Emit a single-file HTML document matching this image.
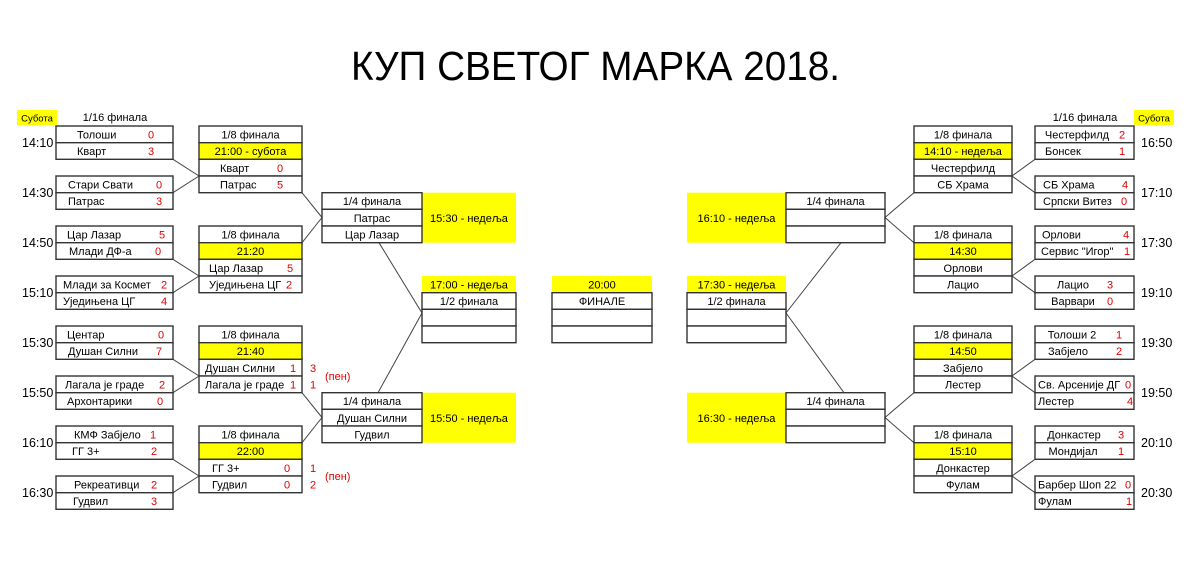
<!DOCTYPE html>
<html><head><meta charset="utf-8">
<style>
html,body{margin:0;padding:0;background:#fff;}
svg{display:block;}
text{font-family:"Liberation Sans",sans-serif;font-size:11px;fill:#000;}
.r{fill:#e00000;}
.t{font-size:12.5px;}
.c{text-anchor:middle;}
rect.b{fill:#fff;stroke:#333;stroke-width:1.4;}
rect.y{fill:#ffff00;stroke:#333;stroke-width:1.4;}
rect.yn{fill:#ffff00;stroke:none;}
line{stroke:#444;stroke-width:1;}
</style></head><body>
<svg width="1203" height="577" viewBox="0 0 1203 577" xmlns="http://www.w3.org/2000/svg">
<text x="351" y="80" style="font-size:41px" textLength="489" lengthAdjust="spacingAndGlyphs">КУП СВЕТОГ МАРКА 2018.</text>

<!-- headers -->
<rect class="yn" x="17" y="110" width="40" height="15"/>
<text x="37" y="121.5" class="c" style="font-size:9.5px">Субота</text>
<text x="115" y="121" class="c">1/16 финала</text>
<rect class="yn" x="1134" y="110" width="40" height="15"/>
<text x="1154" y="121.5" class="c" style="font-size:9.5px">Субота</text>
<text x="1085" y="121" class="c">1/16 финала</text>

<!-- connectors -->
<line x1="173" y1="159.3" x2="199" y2="176"/><line x1="173" y1="192.7" x2="199" y2="176"/>
<line x1="173" y1="259.3" x2="199" y2="276"/><line x1="173" y1="292.7" x2="199" y2="276"/>
<line x1="173" y1="359.3" x2="199" y2="376"/><line x1="173" y1="392.7" x2="199" y2="376"/>
<line x1="173" y1="459.3" x2="199" y2="476"/><line x1="173" y1="492.7" x2="199" y2="476"/>
<line x1="302" y1="192.7" x2="322" y2="217.5"/><line x1="302" y1="242.7" x2="322" y2="217.5"/>
<line x1="302" y1="392.7" x2="322" y2="417.5"/><line x1="302" y1="442.7" x2="322" y2="417.5"/>
<line x1="379" y1="242.7" x2="422" y2="313"/><line x1="378" y1="392.7" x2="422" y2="313"/>
<line x1="1035" y1="159.3" x2="1012" y2="176"/><line x1="1035" y1="192.7" x2="1012" y2="176"/>
<line x1="1035" y1="259.3" x2="1012" y2="276"/><line x1="1035" y1="292.7" x2="1012" y2="276"/>
<line x1="1035" y1="359.3" x2="1012" y2="376"/><line x1="1035" y1="392.7" x2="1012" y2="376"/>
<line x1="1035" y1="459.3" x2="1012" y2="476"/><line x1="1035" y1="492.7" x2="1012" y2="476"/>
<line x1="914" y1="192.7" x2="885" y2="217.5"/><line x1="914" y1="242.7" x2="885" y2="217.5"/>
<line x1="914" y1="392.7" x2="885" y2="417.5"/><line x1="914" y1="442.7" x2="885" y2="417.5"/>
<line x1="841" y1="242.7" x2="786" y2="313"/><line x1="844" y1="392.7" x2="786" y2="313"/>

<!-- LEFT R16 -->
<g>
<rect class="b" x="56" y="126" width="117" height="16.7"/><rect class="b" x="56" y="142.7" width="117" height="16.6"/>
<rect class="b" x="56" y="176" width="117" height="16.7"/><rect class="b" x="56" y="192.7" width="117" height="16.6"/>
<rect class="b" x="56" y="226" width="117" height="16.7"/><rect class="b" x="56" y="242.7" width="117" height="16.6"/>
<rect class="b" x="56" y="276" width="117" height="16.7"/><rect class="b" x="56" y="292.7" width="117" height="16.6"/>
<rect class="b" x="56" y="326" width="117" height="16.7"/><rect class="b" x="56" y="342.7" width="117" height="16.6"/>
<rect class="b" x="56" y="376" width="117" height="16.7"/><rect class="b" x="56" y="392.7" width="117" height="16.6"/>
<rect class="b" x="56" y="426" width="117" height="16.7"/><rect class="b" x="56" y="442.7" width="117" height="16.6"/>
<rect class="b" x="56" y="476" width="117" height="16.7"/><rect class="b" x="56" y="492.7" width="117" height="16.6"/>
<text x="77" y="138.5">Толоши</text><text x="151" y="138.5" class="r c">0</text>
<text x="77" y="155.2">Кварт</text><text x="151" y="155.2" class="r c">3</text>
<text x="68" y="188.5">Стари Свати</text><text x="159" y="188.5" class="r c">0</text>
<text x="68" y="205.2">Патрас</text><text x="159" y="205.2" class="r c">3</text>
<text x="67" y="238.5">Цар Лазар</text><text x="162" y="238.5" class="r c">5</text>
<text x="69" y="255.2">Млади ДФ-а</text><text x="158" y="255.2" class="r c">0</text>
<text x="63" y="288.5">Млади за Космет</text><text x="164" y="288.5" class="r c">2</text>
<text x="63" y="305.2">Уједињена ЦГ</text><text x="164" y="305.2" class="r c">4</text>
<text x="67" y="338.5">Центар</text><text x="161" y="338.5" class="r c">0</text>
<text x="68" y="355.2">Душан Силни</text><text x="159" y="355.2" class="r c">7</text>
<text x="65" y="388.5">Лагала је граде</text><text x="162" y="388.5" class="r c">2</text>
<text x="67" y="405.2">Архонтарики</text><text x="160" y="405.2" class="r c">0</text>
<text x="74" y="438.5">КМФ Забјело</text><text x="153" y="438.5" class="r c">1</text>
<text x="72" y="455.2">ГГ 3+</text><text x="154" y="455.2" class="r c">2</text>
<text x="74" y="488.5">Рекреативци</text><text x="154" y="488.5" class="r c">2</text>
<text x="73" y="505.2">Гудвил</text><text x="154" y="505.2" class="r c">3</text>
<text x="22" y="147" class="t">14:10</text><text x="22" y="197" class="t">14:30</text>
<text x="22" y="247" class="t">14:50</text><text x="22" y="297" class="t">15:10</text>
<text x="22" y="347" class="t">15:30</text><text x="22" y="397" class="t">15:50</text>
<text x="22" y="447" class="t">16:10</text><text x="22" y="497" class="t">16:30</text>
</g>

<!-- LEFT R8 -->
<g>
<rect class="b" x="199" y="126" width="103" height="16.7"/><rect class="y" x="199" y="142.7" width="103" height="16.6"/>
<rect class="b" x="199" y="159.3" width="103" height="16.7"/><rect class="b" x="199" y="176" width="103" height="16.7"/>
<text x="250.5" y="138.5" class="c">1/8 финала</text><text x="250.5" y="155.2" class="c">21:00 - субота</text>
<text x="220" y="171.8">Кварт</text><text x="280" y="171.8" class="r c">0</text>
<text x="220" y="188.5">Патрас</text><text x="280" y="188.5" class="r c">5</text>

<rect class="b" x="199" y="226" width="103" height="16.7"/><rect class="y" x="199" y="242.7" width="103" height="16.6"/>
<rect class="b" x="199" y="259.3" width="103" height="16.7"/><rect class="b" x="199" y="276" width="103" height="16.7"/>
<text x="250.5" y="238.5" class="c">1/8 финала</text><text x="250.5" y="255.2" class="c">21:20</text>
<text x="209" y="271.8">Цар Лазар</text><text x="290" y="271.8" class="r c">5</text>
<text x="209" y="288.5">Уједињена ЦГ</text><text x="289" y="288.5" class="r c">2</text>

<rect class="b" x="199" y="326" width="103" height="16.7"/><rect class="y" x="199" y="342.7" width="103" height="16.6"/>
<rect class="b" x="199" y="359.3" width="103" height="16.7"/><rect class="b" x="199" y="376" width="103" height="16.7"/>
<text x="250.5" y="338.5" class="c">1/8 финала</text><text x="250.5" y="355.2" class="c">21:40</text>
<text x="205" y="371.8">Душан Силни</text><text x="293" y="371.8" class="r c">1</text>
<text x="205" y="388.5">Лагала је граде</text><text x="293" y="388.5" class="r c">1</text>
<text x="313" y="371.8" class="r c">3</text><text x="313" y="388.5" class="r c">1</text>
<text x="325" y="380" class="r">(пен)</text>

<rect class="b" x="199" y="426" width="103" height="16.7"/><rect class="y" x="199" y="442.7" width="103" height="16.6"/>
<rect class="b" x="199" y="459.3" width="103" height="16.7"/><rect class="b" x="199" y="476" width="103" height="16.7"/>
<text x="250.5" y="438.5" class="c">1/8 финала</text><text x="250.5" y="455.2" class="c">22:00</text>
<text x="212" y="471.8">ГГ 3+</text><text x="287" y="471.8" class="r c">0</text>
<text x="212" y="488.5">Гудвил</text><text x="287" y="488.5" class="r c">0</text>
<text x="313" y="471.8" class="r c">1</text><text x="313" y="488.5" class="r c">2</text>
<text x="325" y="480" class="r">(пен)</text>
</g>

<!-- LEFT R4 -->
<g>
<rect class="yn" x="422" y="192.7" width="94" height="50"/>
<rect class="b" x="322" y="192.7" width="100" height="16.6"/><rect class="b" x="322" y="209.3" width="100" height="16.7"/><rect class="b" x="322" y="226" width="100" height="16.7"/>
<text x="372" y="205.2" class="c">1/4 финала</text><text x="372" y="221.8" class="c">Патрас</text><text x="372" y="238.5" class="c">Цар Лазар</text>
<text x="469" y="221.8" class="c">15:30 - недеља</text>
<rect class="yn" x="422" y="392.7" width="94" height="50"/>
<rect class="b" x="322" y="392.7" width="100" height="16.6"/><rect class="b" x="322" y="409.3" width="100" height="16.7"/><rect class="b" x="322" y="426" width="100" height="16.7"/>
<text x="372" y="405.2" class="c">1/4 финала</text><text x="372" y="421.8" class="c">Душан Силни</text><text x="372" y="438.5" class="c">Гудвил</text>
<text x="469" y="421.8" class="c">15:50 - недеља</text>
</g>

<!-- SEMIS & FINAL -->
<g>
<rect class="yn" x="422" y="276" width="94" height="16.7"/>
<text x="469" y="288.5" class="c">17:00 - недеља</text>
<rect class="b" x="422" y="292.7" width="94" height="16.6"/><rect class="b" x="422" y="309.3" width="94" height="16.7"/><rect class="b" x="422" y="326" width="94" height="16.7"/>
<text x="469" y="305.2" class="c">1/2 финала</text>

<rect class="yn" x="552" y="276" width="100" height="16.7"/>
<text x="602" y="288.5" class="c">20:00</text>
<rect class="b" x="552" y="292.7" width="100" height="16.6"/><rect class="b" x="552" y="309.3" width="100" height="16.7"/><rect class="b" x="552" y="326" width="100" height="16.7"/>
<text x="602" y="305.2" class="c">ФИНАЛЕ</text>

<rect class="yn" x="687" y="276" width="99" height="16.7"/>
<text x="736.5" y="288.5" class="c">17:30 - недеља</text>
<rect class="b" x="687" y="292.7" width="99" height="16.6"/><rect class="b" x="687" y="309.3" width="99" height="16.7"/><rect class="b" x="687" y="326" width="99" height="16.7"/>
<text x="736.5" y="305.2" class="c">1/2 финала</text>
</g>

<!-- RIGHT R4 -->
<g>
<rect class="yn" x="687" y="192.7" width="99" height="50"/>
<text x="736.5" y="221.8" class="c">16:10 - недеља</text>
<rect class="b" x="786" y="192.7" width="99" height="16.6"/><rect class="b" x="786" y="209.3" width="99" height="16.7"/><rect class="b" x="786" y="226" width="99" height="16.7"/>
<text x="835.5" y="205.2" class="c">1/4 финала</text>
<rect class="yn" x="687" y="392.7" width="99" height="50"/>
<text x="736.5" y="421.8" class="c">16:30 - недеља</text>
<rect class="b" x="786" y="392.7" width="99" height="16.6"/><rect class="b" x="786" y="409.3" width="99" height="16.7"/><rect class="b" x="786" y="426" width="99" height="16.7"/>
<text x="835.5" y="405.2" class="c">1/4 финала</text>
</g>

<!-- RIGHT R8 -->
<g>
<rect class="b" x="914" y="126" width="98" height="16.7"/><rect class="y" x="914" y="142.7" width="98" height="16.6"/>
<rect class="b" x="914" y="159.3" width="98" height="16.7"/><rect class="b" x="914" y="176" width="98" height="16.7"/>
<text x="963" y="138.5" class="c">1/8 финала</text><text x="963" y="155.2" class="c">14:10 - недеља</text>
<text x="963" y="171.8" class="c">Честерфилд</text><text x="963" y="188.5" class="c">СБ Храма</text>

<rect class="b" x="914" y="226" width="98" height="16.7"/><rect class="y" x="914" y="242.7" width="98" height="16.6"/>
<rect class="b" x="914" y="259.3" width="98" height="16.7"/><rect class="b" x="914" y="276" width="98" height="16.7"/>
<text x="963" y="238.5" class="c">1/8 финала</text><text x="963" y="255.2" class="c">14:30</text>
<text x="963" y="271.8" class="c">Орлови</text><text x="963" y="288.5" class="c">Лацио</text>

<rect class="b" x="914" y="326" width="98" height="16.7"/><rect class="y" x="914" y="342.7" width="98" height="16.6"/>
<rect class="b" x="914" y="359.3" width="98" height="16.7"/><rect class="b" x="914" y="376" width="98" height="16.7"/>
<text x="963" y="338.5" class="c">1/8 финала</text><text x="963" y="355.2" class="c">14:50</text>
<text x="963" y="371.8" class="c">Забјело</text><text x="963" y="388.5" class="c">Лестер</text>

<rect class="b" x="914" y="426" width="98" height="16.7"/><rect class="y" x="914" y="442.7" width="98" height="16.6"/>
<rect class="b" x="914" y="459.3" width="98" height="16.7"/><rect class="b" x="914" y="476" width="98" height="16.7"/>
<text x="963" y="438.5" class="c">1/8 финала</text><text x="963" y="455.2" class="c">15:10</text>
<text x="963" y="471.8" class="c">Донкастер</text><text x="963" y="488.5" class="c">Фулам</text>
</g>

<!-- RIGHT R16 -->
<g>
<rect class="b" x="1035" y="126" width="99" height="16.7"/><rect class="b" x="1035" y="142.7" width="99" height="16.6"/>
<rect class="b" x="1035" y="176" width="99" height="16.7"/><rect class="b" x="1035" y="192.7" width="99" height="16.6"/>
<rect class="b" x="1035" y="226" width="99" height="16.7"/><rect class="b" x="1035" y="242.7" width="99" height="16.6"/>
<rect class="b" x="1035" y="276" width="99" height="16.7"/><rect class="b" x="1035" y="292.7" width="99" height="16.6"/>
<rect class="b" x="1035" y="326" width="99" height="16.7"/><rect class="b" x="1035" y="342.7" width="99" height="16.6"/>
<rect class="b" x="1035" y="376" width="99" height="16.7"/><rect class="b" x="1035" y="392.7" width="99" height="16.6"/>
<rect class="b" x="1035" y="426" width="99" height="16.7"/><rect class="b" x="1035" y="442.7" width="99" height="16.6"/>
<rect class="b" x="1035" y="476" width="99" height="16.7"/><rect class="b" x="1035" y="492.7" width="99" height="16.6"/>
<text x="1077" y="138.5" class="c">Честерфилд</text><text x="1122" y="138.5" class="r c">2</text>
<text x="1045" y="155.2">Бонсек</text><text x="1122" y="155.2" class="r c">1</text>
<text x="1043" y="188.5">СБ Храма</text><text x="1125" y="188.5" class="r c">4</text>
<text x="1043" y="205.2">Српски Витез</text><text x="1124" y="205.2" class="r c">0</text>
<text x="1042" y="238.5">Орлови</text><text x="1126" y="238.5" class="r c">4</text>
<text x="1041" y="255.2">Сервис "Игор"</text><text x="1127" y="255.2" class="r c">1</text>
<text x="1073" y="288.5" class="c">Лацио</text><text x="1110" y="288.5" class="r c">3</text>
<text x="1073" y="305.2" class="c">Варвари</text><text x="1110" y="305.2" class="r c">0</text>
<text x="1072" y="338.5" class="c">Толоши 2</text><text x="1119" y="338.5" class="r c">1</text>
<text x="1068" y="355.2" class="c">Забјело</text><text x="1119" y="355.2" class="r c">2</text>
<text x="1038" y="388.5">Св. Арсеније ДГ</text><text x="1128" y="388.5" class="r c">0</text>
<text x="1038" y="405.2">Лестер</text><text x="1130" y="405.2" class="r c">4</text>
<text x="1074" y="438.5" class="c">Донкастер</text><text x="1121" y="438.5" class="r c">3</text>
<text x="1073" y="455.2" class="c">Мондијал</text><text x="1121" y="455.2" class="r c">1</text>
<text x="1038" y="488.5">Барбер Шоп 22</text><text x="1128" y="488.5" class="r c">0</text>
<text x="1038" y="505.2">Фулам</text><text x="1129" y="505.2" class="r c">1</text>
<text x="1141" y="147" class="t">16:50</text><text x="1141" y="197" class="t">17:10</text>
<text x="1141" y="247" class="t">17:30</text><text x="1141" y="297" class="t">19:10</text>
<text x="1141" y="347" class="t">19:30</text><text x="1141" y="397" class="t">19:50</text>
<text x="1141" y="447" class="t">20:10</text><text x="1141" y="497" class="t">20:30</text>
</g>
</svg>
</body></html>
